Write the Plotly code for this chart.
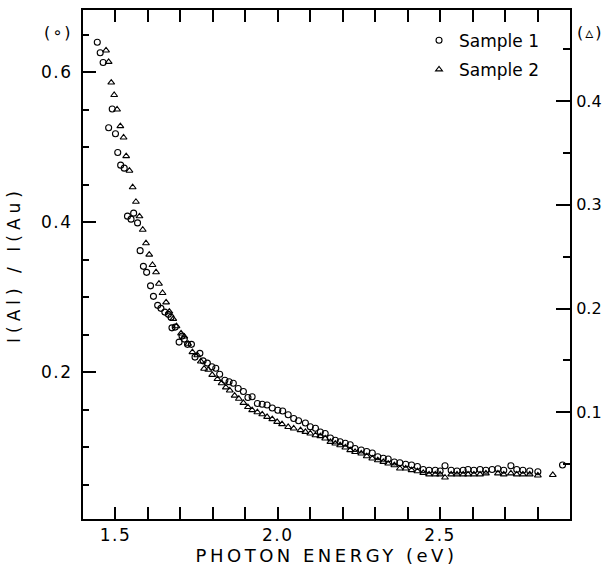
import plotly.graph_objects as go

# Sample 1 (open circles, left axis)
s1_energy = [1.444, 1.453, 1.462, 1.479, 1.490, 1.500, 1.507, 1.516, 1.527, 1.537,
             1.548, 1.556, 1.568, 1.576, 1.586, 1.596, 1.608, 1.617, 1.630, 1.640,
             1.652, 1.663, 1.671, 1.674, 1.684, 1.696, 1.705, 1.712, 1.722, 1.734,
             1.745, 1.760, 1.770, 1.783, 1.797, 1.809, 1.821, 1.837, 1.850, 1.863,
             1.878, 1.894, 1.908, 1.921, 1.937, 1.952, 1.967, 1.983, 2.000, 2.015,
             2.032, 2.049, 2.064, 2.085, 2.100, 2.116, 2.131, 2.146, 2.162, 2.177,
             2.192, 2.208, 2.223, 2.238, 2.257, 2.274, 2.291, 2.308, 2.325, 2.340,
             2.359, 2.376, 2.394, 2.412, 2.430, 2.448, 2.466, 2.485, 2.500, 2.515,
             2.534, 2.552, 2.571, 2.586, 2.604, 2.623, 2.641, 2.660, 2.678, 2.696,
             2.718, 2.736, 2.755, 2.776, 2.801, 2.877]
s1_ratio = [0.640, 0.626, 0.613, 0.526, 0.551, 0.518, 0.493, 0.476, 0.472, 0.408,
            0.404, 0.412, 0.399, 0.362, 0.341, 0.333, 0.315, 0.301, 0.289, 0.285,
            0.280, 0.277, 0.273, 0.259, 0.260, 0.240, 0.248, 0.244, 0.237, 0.237,
            0.220, 0.225, 0.215, 0.212, 0.207, 0.205, 0.197, 0.189, 0.187, 0.185,
            0.178, 0.174, 0.166, 0.167, 0.158, 0.157, 0.156, 0.152, 0.149, 0.148,
            0.143, 0.138, 0.135, 0.132, 0.127, 0.125, 0.120, 0.118, 0.112, 0.109,
            0.107, 0.105, 0.103, 0.098, 0.096, 0.094, 0.092, 0.087, 0.085, 0.084,
            0.080, 0.079, 0.077, 0.076, 0.074, 0.070, 0.069, 0.069, 0.068, 0.075,
            0.069, 0.068, 0.069, 0.070, 0.069, 0.070, 0.069, 0.070, 0.071, 0.069,
            0.075, 0.070, 0.069, 0.068, 0.067, 0.076]

# Sample 2 (open triangles, right axis)
s2_energy = [1.471, 1.479, 1.487, 1.496, 1.505, 1.515, 1.525, 1.533, 1.543, 1.553,
             1.563, 1.574, 1.584, 1.594, 1.604, 1.614, 1.625, 1.634, 1.645, 1.656,
             1.666, 1.678, 1.688, 1.702, 1.712, 1.724, 1.737, 1.752, 1.763, 1.773,
             1.786, 1.798, 1.814, 1.827, 1.840, 1.852, 1.867, 1.880, 1.894, 1.908,
             1.921, 1.937, 1.952, 1.967, 1.983, 1.998, 2.013, 2.032, 2.049, 2.070,
             2.085, 2.100, 2.116, 2.131, 2.146, 2.162, 2.177, 2.192, 2.208, 2.223,
             2.238, 2.257, 2.274, 2.291, 2.308, 2.325, 2.340, 2.359, 2.376, 2.394,
             2.412, 2.430, 2.448, 2.466, 2.485, 2.500, 2.515, 2.534, 2.552, 2.571,
             2.586, 2.604, 2.623, 2.641, 2.678, 2.696, 2.718, 2.736, 2.755, 2.776,
             2.801, 2.847]
s2_ratio = [0.449, 0.438, 0.418, 0.406, 0.392, 0.376, 0.365, 0.347, 0.333, 0.317,
            0.303, 0.289, 0.276, 0.263, 0.252, 0.242, 0.235, 0.224, 0.215, 0.206,
            0.197, 0.190, 0.183, 0.176, 0.173, 0.166, 0.158, 0.155, 0.149, 0.142,
            0.141, 0.136, 0.132, 0.128, 0.124, 0.121, 0.116, 0.113, 0.109, 0.105,
            0.102, 0.100, 0.098, 0.0955, 0.0933, 0.0907, 0.0885, 0.0858, 0.0843, 0.0827,
            0.0810, 0.0795, 0.0778, 0.0769, 0.0747, 0.0714, 0.0698, 0.0682, 0.0660, 0.0634,
            0.0617, 0.0602, 0.0576, 0.0554, 0.0537, 0.0521, 0.0505, 0.0489, 0.0457, 0.0457,
            0.0441, 0.0431, 0.0415, 0.040, 0.040, 0.040, 0.037, 0.040, 0.040, 0.040,
            0.040, 0.040, 0.040, 0.041, 0.041, 0.040, 0.041, 0.040, 0.040, 0.040,
            0.039, 0.0395]

left_ticks = [0.2, 0.4, 0.6]
left_labels = ["0.2", "0.4", "0.6"]
left_minor = [0.05, 0.1, 0.15, 0.25, 0.3, 0.35, 0.45, 0.5, 0.55, 0.65]
right_ticks = [0.1, 0.2, 0.3, 0.4]
right_labels = ["0.1", "0.2", "0.3", "0.4"]
right_minor = [0.05, 0.15, 0.25, 0.35, 0.45]
x_ticks = [1.5, 2.0, 2.5]
x_labels = ["1.5", "2.0", "2.5"]

FONT = "DejaVu Sans"


def spaced(text, px):
    return f'<span style="letter-spacing:{px}px">{text}</span>'


fig = go.Figure()
fig.add_trace(go.Scatter(
    x=s1_energy, y=s1_ratio, mode="markers", name="Sample 1",
    legendgroup="a",
    marker=dict(symbol="circle-open", size=6, color="black", line=dict(width=1.1)),
    yaxis="y"))
fig.add_trace(go.Scatter(
    x=s2_energy, y=s2_ratio, mode="markers", name="Sample 2",
    legendgroup="b",
    marker=dict(symbol="triangle-up-open", size=6, color="black", line=dict(width=1.1)),
    yaxis="y2"))

axis_common = dict(showline=True, linecolor="black", linewidth=2, showgrid=False,
                   zeroline=False, ticks="inside", tickcolor="black", tickwidth=1.5,
                   automargin=False)

fig.update_layout(
    width=608, height=570,
    margin=dict(l=83, r=38, t=10, b=51),
    paper_bgcolor="white", plot_bgcolor="white",
    showlegend=True,
    legend=dict(x=0.69, y=0.975, xanchor="left", yanchor="top",
                font=dict(family=FONT, size=17, color="black"),
                tracegroupgap=4, bgcolor="rgba(0,0,0,0)", itemwidth=30),
    xaxis=dict(range=[1.4, 2.9], tickvals=x_ticks,
               ticktext=[spaced(t, 1.5) for t in x_labels],
               tickfont=dict(family=FONT, size=17, color="black"),
               ticklen=12, mirror="allticks",
               minor=dict(dtick=0.1, tick0=1.4, ticklen=6, ticks="inside",
                          tickcolor="black", tickwidth=1.5),
               title=dict(text=spaced("PHOTON ENERGY (eV)", 3.5),
                          font=dict(family=FONT, size=18, color="black"),
                          standoff=5),
               ticklabelstandoff=0,
               **axis_common),
    yaxis=dict(range=[0.004, 0.683], tickvals=left_ticks,
               ticktext=[spaced(t, 1.5) for t in left_labels], ticklen=13,
               tickfont=dict(family=FONT, size=17, color="black"),
               minor=dict(tickmode="array", tickvals=left_minor, ticklen=6,
                          ticks="inside", tickcolor="black", tickwidth=1.5),
               title=dict(text=spaced("I(Al) / I(Au)", 5),
                          font=dict(family=FONT, size=17, color="black"),
                          standoff=16),
               ticklabelstandoff=5,
               **axis_common),
    yaxis2=dict(range=[-0.003, 0.488], overlaying="y", side="right",
                tickvals=right_ticks, ticktext=right_labels,
                tickfont=dict(family=FONT, size=16, color="black"),
                ticklen=14,
                minor=dict(tickmode="array", tickvals=right_minor, ticklen=7,
                           ticks="inside", tickcolor="black", tickwidth=1.5),
                ticklabelstandoff=1,
                **axis_common),
)

fig.add_annotation(text=spaced("(∘)", 2), xref="paper", yref="paper", x=-0.016, y=0.955,
                   xanchor="right", yanchor="middle", showarrow=False,
                   font=dict(family=FONT, size=16, color="black"))
fig.add_annotation(text=spaced("(▵)", 2), xref="paper", yref="paper", x=1.010, y=0.955,
                   xanchor="left", yanchor="middle", showarrow=False,
                   font=dict(family=FONT, size=16, color="black"))

fig.write_html("out.html")
